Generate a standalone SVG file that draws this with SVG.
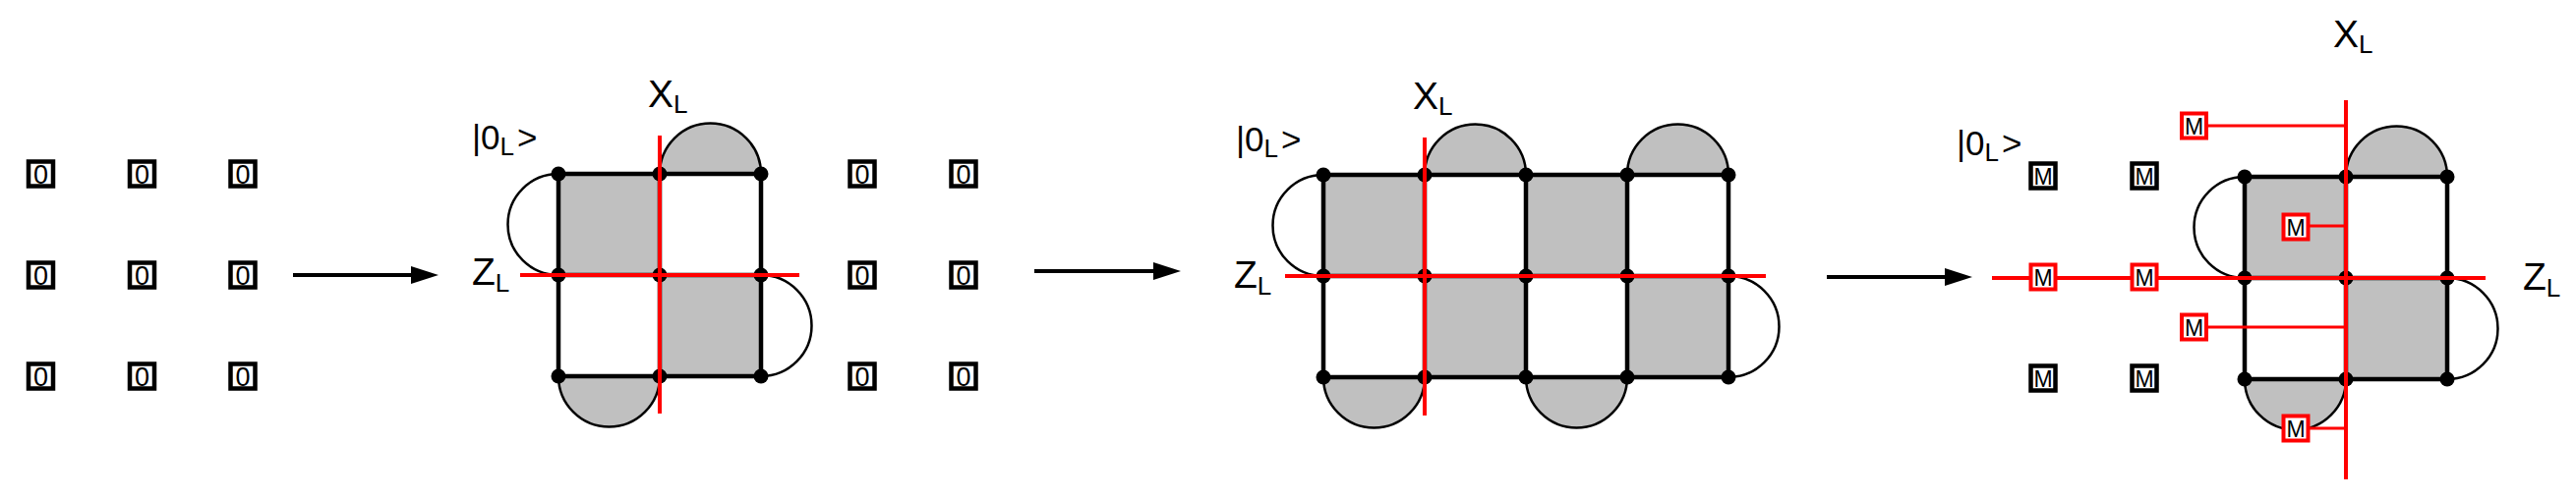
<svg xmlns="http://www.w3.org/2000/svg" width="2620" height="508" viewBox="0 0 2620 508">
<style>
.bg{fill:#fff}
.q{fill:#fff;stroke:#000;stroke-width:4.5}
.qr{fill:#fff;stroke:#f00;stroke-width:4}
.bt{font-family:"Liberation Sans",Arial,sans-serif;font-size:27px;text-anchor:middle;fill:#000}
.mt{font-family:"Liberation Sans",Arial,sans-serif;font-size:23px;text-anchor:middle;fill:#000}
.gray{fill:#c0c0c0;stroke:none}
.semi{fill:#c0c0c0;stroke:#000;stroke-width:2.5}
.arc{fill:none;stroke:#000;stroke-width:2.5}
.edge{fill:none;stroke:#000;stroke-width:4.5}
.dot{fill:#000}
.red{fill:none;stroke:#f00;stroke-width:4}
.redb{fill:none;stroke:#f00;stroke-width:3}
.arrow{stroke:#000;stroke-width:4;fill:none}
.lbl{font-family:"Liberation Sans",Arial,sans-serif;font-size:39px;fill:#000}
.ket{font-family:"Liberation Sans",Arial,sans-serif;font-size:35px;fill:#000}
.sub{font-size:26px}
</style>
<defs>
<marker id="ah" markerUnits="userSpaceOnUse" markerWidth="30" markerHeight="20" refX="22" refY="9" orient="auto">
<path d="M0,0 L28,9 L0,18 Z" fill="#000"/>
</marker>
</defs>
<rect class="bg" x="0" y="0" width="2620" height="508"/>

<!-- left grid of 0 boxes -->
<g id="grid0a">
<g id="b0_1"><rect class="q" x="29" y="164.5" width="25" height="25"/><text class="bt" x="41.5" y="186.5">0</text></g>
<g id="b0_2"><rect class="q" x="132" y="164.5" width="25" height="25"/><text class="bt" x="144.5" y="186.5">0</text></g>
<g id="b0_3"><rect class="q" x="234.5" y="164.5" width="25" height="25"/><text class="bt" x="247" y="186.5">0</text></g>
<g id="b0_4"><rect class="q" x="29" y="267.5" width="25" height="25"/><text class="bt" x="41.5" y="289.5">0</text></g>
<g id="b0_5"><rect class="q" x="132" y="267.5" width="25" height="25"/><text class="bt" x="144.5" y="289.5">0</text></g>
<g id="b0_6"><rect class="q" x="234.5" y="267.5" width="25" height="25"/><text class="bt" x="247" y="289.5">0</text></g>
<g id="b0_7"><rect class="q" x="29" y="370.5" width="25" height="25"/><text class="bt" x="41.5" y="392.5">0</text></g>
<g id="b0_8"><rect class="q" x="132" y="370.5" width="25" height="25"/><text class="bt" x="144.5" y="392.5">0</text></g>
<g id="b0_9"><rect class="q" x="234.5" y="370.5" width="25" height="25"/><text class="bt" x="247" y="392.5">0</text></g>
</g>

<!-- second grid of 0 boxes -->
<g id="grid0b">
<g id="b1_1"><rect class="q" x="864.5" y="164.5" width="25" height="25"/><text class="bt" x="877" y="186.5">0</text></g>
<g id="b1_2"><rect class="q" x="967.5" y="164.5" width="25" height="25"/><text class="bt" x="980" y="186.5">0</text></g>
<g id="b1_3"><rect class="q" x="864.5" y="267.5" width="25" height="25"/><text class="bt" x="877" y="289.5">0</text></g>
<g id="b1_4"><rect class="q" x="967.5" y="267.5" width="25" height="25"/><text class="bt" x="980" y="289.5">0</text></g>
<g id="b1_5"><rect class="q" x="864.5" y="370.5" width="25" height="25"/><text class="bt" x="877" y="392.5">0</text></g>
<g id="b1_6"><rect class="q" x="967.5" y="370.5" width="25" height="25"/><text class="bt" x="980" y="392.5">0</text></g>
</g>

<!-- connectors: arrows -->
<g id="connectors">
<line class="arrow" x1="298" y1="280" x2="440" y2="280" marker-end="url(#ah)"/>
<line class="arrow" x1="1052" y1="276" x2="1195" y2="276" marker-end="url(#ah)"/>
<line class="arrow" x1="1858" y1="282" x2="2000" y2="282" marker-end="url(#ah)"/>
</g>

<!-- graph 1 -->
<g id="code1">
<rect class="gray" x="568" y="177" width="103" height="103"/>
<rect class="gray" x="671" y="280" width="103" height="103"/>
<path class="semi" d="M671,177 A51.5,51.5 0 0 1 774,177 Z"/>
<path class="semi" d="M568,383 A51.5,51.5 0 0 0 671,383 Z"/>
<path class="arc" d="M568,177 A51.5,51.5 0 0 0 568,280"/>
<path class="arc" d="M774,280 A51.5,51.5 0 0 1 774,383"/>
<path class="edge" d="M568,177 H774 V383 H568 Z M671,177 V383 M568,280 H774"/>
<g class="dot">
<circle cx="568" cy="177" r="7.5"/><circle cx="671" cy="177" r="7.5"/><circle cx="774" cy="177" r="7.5"/>
<circle cx="568" cy="280" r="7.5"/><circle cx="671" cy="280" r="7.5"/><circle cx="774" cy="280" r="7.5"/>
<circle cx="568" cy="383" r="7.5"/><circle cx="671" cy="383" r="7.5"/><circle cx="774" cy="383" r="7.5"/>
</g>
<line class="red" x1="671" y1="138" x2="671" y2="421"/>
<line class="red" x1="529" y1="280" x2="813" y2="280"/>
<text class="lbl" x="659" y="109">X<tspan class="sub" dy="6">L</tspan></text>
<text class="ket" x="480" y="152">|0<tspan class="sub" dy="6">L</tspan><tspan dx="3" dy="-6">&gt;</tspan></text>
<text class="lbl" x="480" y="290">Z<tspan class="sub" dy="7">L</tspan></text>
</g>

<!-- graph 2 -->
<g id="code2">
<rect class="gray" x="1346" y="178" width="103" height="103"/>
<rect class="gray" x="1552" y="178" width="103" height="103"/>
<rect class="gray" x="1449" y="281" width="103" height="103"/>
<rect class="gray" x="1655" y="281" width="103" height="103"/>
<path class="semi" d="M1449,178 A51.5,51.5 0 0 1 1552,178 Z"/>
<path class="semi" d="M1655,178 A51.5,51.5 0 0 1 1758,178 Z"/>
<path class="semi" d="M1346,384 A51.5,51.5 0 0 0 1449,384 Z"/>
<path class="semi" d="M1552,384 A51.5,51.5 0 0 0 1655,384 Z"/>
<path class="arc" d="M1346,178 A51.5,51.5 0 0 0 1346,281"/>
<path class="arc" d="M1758,281 A51.5,51.5 0 0 1 1758,384"/>
<path class="edge" d="M1346,178 H1758 V384 H1346 Z M1449,178 V384 M1552,178 V384 M1655,178 V384 M1346,281 H1758"/>
<g class="dot">
<circle cx="1346" cy="178" r="7.5"/><circle cx="1449" cy="178" r="7.5"/><circle cx="1552" cy="178" r="7.5"/><circle cx="1655" cy="178" r="7.5"/><circle cx="1758" cy="178" r="7.5"/>
<circle cx="1346" cy="281" r="7.5"/><circle cx="1449" cy="281" r="7.5"/><circle cx="1552" cy="281" r="7.5"/><circle cx="1655" cy="281" r="7.5"/><circle cx="1758" cy="281" r="7.5"/>
<circle cx="1346" cy="384" r="7.5"/><circle cx="1449" cy="384" r="7.5"/><circle cx="1552" cy="384" r="7.5"/><circle cx="1655" cy="384" r="7.5"/><circle cx="1758" cy="384" r="7.5"/>
</g>
<line class="red" x1="1449" y1="140" x2="1449" y2="423"/>
<line class="red" x1="1307" y1="281" x2="1796" y2="281"/>
<text class="lbl" x="1437" y="111">X<tspan class="sub" dy="6">L</tspan></text>
<text class="ket" x="1257" y="154">|0<tspan class="sub" dy="6">L</tspan><tspan dx="3" dy="-6">&gt;</tspan></text>
<text class="lbl" x="1255" y="293">Z<tspan class="sub" dy="7">L</tspan></text>
</g>

<!-- graph 3 -->
<g id="code3">
<rect class="gray" x="2283" y="180" width="103" height="103"/>
<rect class="gray" x="2386" y="283" width="103" height="103"/>
<path class="semi" d="M2386,180 A51.5,51.5 0 0 1 2489,180 Z"/>
<path class="semi" d="M2283,386 A51.5,51.5 0 0 0 2386,386 Z"/>
<path class="arc" d="M2283,180 A51.5,51.5 0 0 0 2283,283"/>
<path class="arc" d="M2489,283 A51.5,51.5 0 0 1 2489,386"/>
<path class="edge" d="M2283,180 H2489 V386 H2283 Z M2386,180 V386 M2283,283 H2489"/>
<g class="dot">
<circle cx="2283" cy="180" r="7.5"/><circle cx="2386" cy="180" r="7.5"/><circle cx="2489" cy="180" r="7.5"/>
<circle cx="2283" cy="283" r="7.5"/><circle cx="2386" cy="283" r="7.5"/><circle cx="2489" cy="283" r="7.5"/>
<circle cx="2283" cy="386" r="7.5"/><circle cx="2386" cy="386" r="7.5"/><circle cx="2489" cy="386" r="7.5"/>
</g>
<line class="red" x1="2386" y1="102" x2="2386" y2="488"/>
<line class="red" x1="2026" y1="283" x2="2528" y2="283"/>
<line class="redb" x1="2246" y1="128" x2="2386" y2="128"/>
<line class="redb" x1="2349" y1="230" x2="2386" y2="230"/>
<line class="redb" x1="2246" y1="333" x2="2386" y2="333"/>
<line class="redb" x1="2349" y1="436" x2="2386" y2="436"/>
<text class="lbl" x="2373" y="48">X<tspan class="sub" dy="6">L</tspan></text>
<text class="ket" x="1990" y="158">|0<tspan class="sub" dy="6">L</tspan><tspan dx="3" dy="-6">&gt;</tspan></text>
<text class="lbl" x="2566" y="295">Z<tspan class="sub" dy="7">L</tspan></text>
</g>

<!-- M boxes -->
<g id="gridM">
<g id="m1"><rect class="q" x="2065.5" y="166.5" width="25" height="25"/><text class="mt" x="2078" y="187.5">M</text></g>
<g id="m2"><rect class="q" x="2168.5" y="166.5" width="25" height="25"/><text class="mt" x="2181" y="187.5">M</text></g>
<g id="m3"><rect class="qr" x="2065.5" y="269.5" width="25" height="25"/><text class="mt" x="2078" y="290.5">M</text></g>
<g id="m4"><rect class="qr" x="2168.5" y="269.5" width="25" height="25"/><text class="mt" x="2181" y="290.5">M</text></g>
<g id="m5"><rect class="q" x="2065.5" y="372.5" width="25" height="25"/><text class="mt" x="2078" y="393.5">M</text></g>
<g id="m6"><rect class="q" x="2168.5" y="372.5" width="25" height="25"/><text class="mt" x="2181" y="393.5">M</text></g>
<g id="m7"><rect class="qr" x="2219" y="115.5" width="25" height="25"/><text class="mt" x="2231.5" y="136.5">M</text></g>
<g id="m8"><rect class="qr" x="2322.5" y="218.5" width="25" height="25"/><text class="mt" x="2335" y="239.5">M</text></g>
<g id="m9"><rect class="qr" x="2219" y="320.5" width="25" height="25"/><text class="mt" x="2231.5" y="341.5">M</text></g>
<g id="m10"><rect class="qr" x="2322.5" y="423.5" width="25" height="25"/><text class="mt" x="2335" y="444.5">M</text></g>
</g>
</svg>
